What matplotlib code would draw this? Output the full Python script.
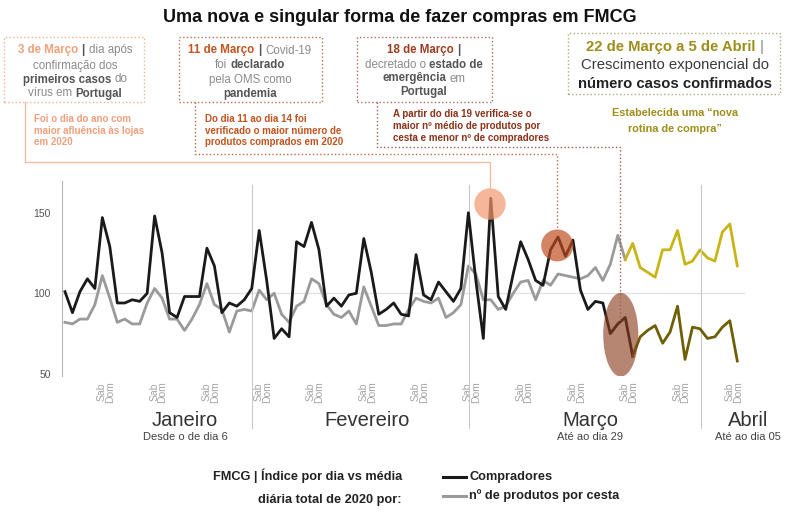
import matplotlib
matplotlib.use("Agg")
import matplotlib.pyplot as plt
import numpy as np
import pandas as pd
from matplotlib import font_manager
from matplotlib.patches import Ellipse, Rectangle
from matplotlib.lines import Line2D

# índice diário vs média diária total de 2020 (6 jan a 5 abr)
dias = pd.date_range("2020-01-06", "2020-04-05", freq="D")

compradores = [101, 88, 101, 109, 103, 147, 129, 94, 94, 96, 95, 100, 148, 125,
               88, 85, 98, 98, 98, 128, 117, 88, 94, 92, 96, 103, 139, 108,
               72, 78, 73, 132, 129, 144, 127, 92, 97, 92, 99, 100, 134, 113,
               87, 90, 94, 87, 86, 124, 99, 96, 107, 101, 95, 103, 150, 108,
               72, 159, 98, 90, 112, 132, 121, 108, 105, 127, 135, 123, 133, 102,
               90, 95, 94, 75, 81, 85, 61]
produtos = [82, 81, 84, 84, 93, 111, 97, 82, 84, 81, 81, 94, 103, 97,
            84, 84, 77, 84, 93, 106, 93, 90, 76, 89, 90, 89, 102, 96,
            100, 87, 82, 92, 95, 109, 106, 93, 87, 85, 89, 81, 104, 92,
            80, 80, 81, 81, 90, 97, 95, 94, 97, 85, 88, 93, 117, 112,
            96, 96, 90, 92, 100, 107, 108, 96, 108, 105, 112, 111, 110, 109,
            111, 116, 108, 118, 136, 121]
# "nova rotina de compra" (22 mar a 5 abr)
compradores_rotina = [61, 73, 77, 80, 69, 76, 92, 59, 79, 78, 72, 73, 79, 83, 58]
produtos_rotina = [121, 131, 116, 113, 110, 127, 127, 139, 118, 120, 127, 122, 120, 138, 143, 117]

meses = ["Janeiro", "Fevereiro", "Março", "Abril"]
sub_meses = ["Desde o de dia 6", "", "Até ao dia 29", "Até ao dia 05"]

W, H = 800, 514
FONTE = ["Liberation Sans", "DejaVu Sans"]
nomes = {f.name for f in font_manager.fontManager.ttflist}
if "Liberation Sans Narrow" in nomes:
    ESTREITA, k = ["Liberation Sans Narrow", "Liberation Sans", "DejaVu Sans"], 1.22
else:
    ESTREITA, k = FONTE, 1.0
plt.rcParams["font.family"] = FONTE

fig = plt.figure(figsize=(W / 100, H / 100), dpi=100)
renderer = fig.canvas.get_renderer()


def px(x, y):
    return x / W, 1 - y / H


def largura(texto, tam, peso, familia):
    t = fig.text(0, 0, texto, fontsize=tam, fontweight=peso, family=familia)
    w = t.get_window_extent(renderer).width
    t.remove()
    return w


def linha(x, y, partes, tam, ha="center", familia=FONTE):
    # largura de avanço de cada pedaço (inclui os espaços laterais)
    larg, esp = [], []
    for t, c, p in partes:
        base = largura("aa", tam, p, familia)
        larg.append(largura("a" + t + "a", tam, p, familia) - base)
        e = largura("a a", tam, p, familia) - base
        esp.append(e + (1.5 if t == "|" else 0))
    total = sum(larg) + sum(esp[:-1])
    x0 = x - total / 2 if ha == "center" else x
    for (t, c, p), w, e in zip(partes, larg, esp):
        fig.text(*px(x0, y), t, fontsize=tam, color=c, fontweight=p, family=familia,
                 va="center_baseline", ha="left")
        x0 += w + e


def caminho(xs, ys, cor, ls=":", lw=1.0):
    fig.add_artist(Line2D([x / W for x in xs], [1 - y / H for y in ys],
                          transform=fig.transFigure, color=cor, ls=ls, lw=lw))


def caixa(x0, y0, x1, y1, cor):
    fig.add_artist(Rectangle((x0 / W, 1 - y1 / H), (x1 - x0) / W, (y1 - y0) / H,
                             transform=fig.transFigure, fill=False, ec=cor, ls=":", lw=1.0))


# ---- gráfico
ax = fig.add_axes([62 / W, (H - 375.5) / H, (745 - 62) / W, 195 / H])
x = np.arange(len(dias))
ax.axhline(100, color="#e2e2e2", lw=1.0, zorder=1)
ax.plot(x[:len(produtos)], produtos, color="#9a9a9a", lw=2.0, zorder=2)
ax.plot(x[:len(compradores)], compradores, color="#1a1a1a", lw=2.0, zorder=3)
ax.plot(x[-len(produtos_rotina):], produtos_rotina, color="#c9b416", lw=2.0, zorder=2)
ax.plot(x[-len(compradores_rotina):], compradores_rotina, color="#6e5f05", lw=2.0, zorder=3)

ax.add_patch(Ellipse((56.9, 155.4), 4.2, 19.5, color="#f2976f", alpha=0.7, lw=0, zorder=4))
ax.add_patch(Ellipse((65.9, 129.7), 4.3, 19.8, color="#bd4a1c", alpha=0.68, lw=0, zorder=4))
ax.add_patch(Ellipse((74.4, 74.3), 4.7, 52, color="#8a3c1e", alpha=0.62, lw=0, zorder=4))

ax.set_xlim(-0.4, 91.03)
ax.set_ylim(49, 170)
for s in ["top", "right", "bottom"]:
    ax.spines[s].set_visible(False)
ax.spines["left"].set_color("#b5b5b5")
ax.spines["left"].set_linewidth(0.8)
ax.set_yticks([50, 100, 150])
ax.tick_params(axis="y", length=0, pad=8, labelsize=7.5, labelcolor="#555555")

sabados = np.array([i for i, d in enumerate(dias) if d.weekday() == 5])
ax.set_xticks(sabados + 0.5, ["Sab\nDom"] * len(sabados), rotation=90,
              fontsize=7.5, color="#a5a5a5", linespacing=0.8)
ax.tick_params(axis="x", length=0, pad=4)

fim_mes = [i for i in range(len(dias) - 1) if dias[i].month != dias[i + 1].month]
for m in fim_mes:
    ax.plot([m + 0.1, m + 0.1], [-0.27, 0.977], transform=ax.get_xaxis_transform(),
            clip_on=False, color="#c9c9c9", lw=0.8)

# ---- meses
for nome, sub, xc in zip(meses, sub_meses, [185, 367, 590, 748]):
    fig.text(*px(xc, 420), nome, fontsize=14.5, color="#333333", ha="center", va="center")
    if sub:
        fig.text(*px(xc, 437), sub, fontsize=8, color="#444444", ha="center", va="center")

# ---- título
fig.text(*px(400, 18), "Uma nova e singular forma de fazer compras em FMCG",
         fontsize=13, fontweight="bold", ha="center", va="center", color="#111111")

CINZ, CINZB = "#8a8a8a", "#555555"
L1, L2, L3, L4 = "#f0a07a", "#c2541f", "#9c3d22", "#9e8d1a"

# caixa 1
caixa(4, 37, 144, 102, "#f3b394")
tam = 8.3
linha(75, 49, [("3 de Março", L1, "bold"), ("|", CINZB, "bold"), ("dia após", CINZ, "normal")], tam)
linha(75, 64, [("confirmação dos", CINZ, "normal")], tam)
linha(75, 78, [("primeiros casos", CINZB, "bold"), ("do", CINZ, "normal")], tam)
linha(75, 92, [("vírus em", CINZ, "normal"), ("Portugal", CINZB, "bold")], tam)
ts = 7.0 * k
for j, t in enumerate(["Foi o dia do ano com", "maior afluência às lojas", "em 2020"]):
    linha(34, 118 + 11.5 * j, [(t, L1, "bold")], ts, ha="left", familia=ESTREITA)
caminho([24.5, 24.5, 490, 490], [102, 162, 162, 188], "#f4b89b", ls="-", lw=0.9)

# caixa 2
caixa(179, 37, 322, 102, "#c57048")
linha(250, 49, [("11 de Março", L2, "bold"), ("|", CINZB, "bold"), ("Covid-19", CINZ, "normal")], tam)
linha(250, 64, [("foi", CINZ, "normal"), ("declarado", CINZB, "bold")], tam)
linha(250, 78, [("pela OMS como", CINZ, "normal")], tam)
linha(250, 92, [("pandemia", CINZB, "bold")], tam)
for j, t in enumerate(["Do dia 11 ao dia 14 foi", "verificado o maior número de",
                       "produtos comprados em 2020"]):
    linha(205, 118 + 11.5 * j, [(t, L2, "bold")], ts, ha="left", familia=ESTREITA)
caminho([195, 195, 557, 557], [102, 154, 154, 229], "#c06a40")

# caixa 3
caixa(357, 37, 492, 102, "#a8705c")
linha(424, 49, [("18 de Março", L3, "bold"), ("|", CINZB, "bold")], tam)
linha(424, 63, [("decretado o", CINZ, "normal"), ("estado de", CINZB, "bold")], tam)
linha(424, 77, [("emergência", CINZB, "bold"), ("em", CINZ, "normal")], tam)
linha(424, 91, [("Portugal", CINZB, "bold")], tam)
for j, t in enumerate(["A partir do dia 19 verifica-se o", "maior nº médio de produtos por",
                       "cesta e menor nº de compradores"]):
    linha(393, 113 + 11.8 * j, [(t, "#8a321a", "bold")], ts, ha="left", familia=ESTREITA)
caminho([377, 377, 620, 620], [102, 147, 147, 326], "#a0604a")

# caixa 4
caixa(568, 33, 780, 94, "#b3ab7c")
linha(675, 46, [("22 de Março a 5 de Abril", L4, "bold"), ("|", CINZ, "normal")], 10.7)
linha(675, 63, [("Crescimento exponencial do", "#3a3a3a", "normal")], 10.7)
linha(675, 82, [("número casos confirmados", "#222222", "bold")], 10.7)
linha(675, 112, [("Estabelecida uma “nova", L4, "bold")], 7.8 * k, familia=ESTREITA)
linha(675, 128, [("rotina de compra”", L4, "bold")], 7.8 * k, familia=ESTREITA)

# ---- legenda
tl = 9.2 * k
fig.text(*px(402, 476), "FMCG | Índice por dia vs média", fontsize=tl, fontweight="bold",
         ha="right", va="center", family=ESTREITA, color="#222222")
fig.text(*px(402, 500), "diária total de 2020 por:", fontsize=tl, fontweight="bold",
         ha="right", va="center", family=ESTREITA, color="#222222")
caminho([443, 466], [477, 477], "#1a1a1a", ls="-", lw=2.2)
caminho([443, 466], [496, 496], "#9a9a9a", ls="-", lw=2.2)
fig.text(*px(469, 477), "Compradores", fontsize=tl, fontweight="bold", ha="left",
         va="center", family=ESTREITA, color="#222222")
fig.text(*px(469, 496), "nº de produtos por cesta", fontsize=tl, fontweight="bold", ha="left",
         va="center", family=ESTREITA, color="#222222")

fig.savefig("out.png", dpi=100)
